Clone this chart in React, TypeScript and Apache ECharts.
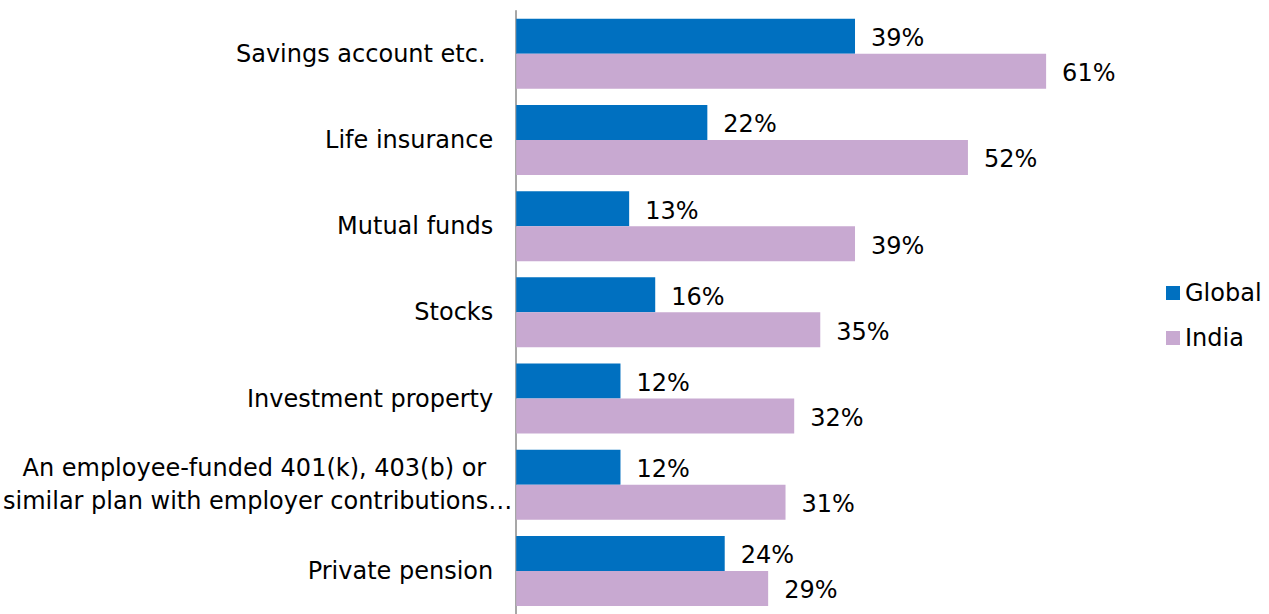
import React, { useEffect, useRef } from "react";
import * as echarts from "echarts";

const categories = [
  "Savings account etc. ",
  "Life insurance",
  "Mutual funds",
  "Stocks",
  "Investment property",
  "An employee-funded 401(k), 403(b) or\nsimilar plan with employer contributions…",
  "Private pension",
];
const globalValues = [39, 22, 13, 16, 12, 12, 24];
const indiaValues = [61, 52, 39, 35, 32, 31, 29];
const seriesNames = ["Global", "India"];

const FONT = "DejaVu Sans, Verdana, sans-serif";
const FS = 24;

export default function App() {
  const ref = useRef<HTMLDivElement>(null);
  useEffect(() => {
    if (!ref.current) return;
    const chart = echarts.init(ref.current, undefined, { renderer: "svg" });
    const labelStyle = {
      show: true,
      position: "right" as const,
      distance: 16,
      offset: [0, 2],
      formatter: "{c}%",
      color: "#000",
      fontFamily: FONT,
      fontSize: FS,
    };
    chart.setOption({
      animation: false,
      backgroundColor: "#fff",
      grid: { left: 516, right: 144.7, top: 10.67, bottom: -3.33, containLabel: false },
      legend: {
        orient: "vertical",
        left: 1161,
        top: 276,
        itemWidth: 14,
        itemHeight: 14,
        itemGap: 21,
        icon: "rect",
        textStyle: { fontFamily: FONT, fontSize: FS, color: "#000" },
        data: seriesNames,
      },
      xAxis: {
        type: "value",
        min: 0,
        max: 70,
        show: false,
        splitLine: { show: false },
      },
      yAxis: {
        type: "category",
        inverse: true,
        data: categories,
        axisTick: { show: false },
        axisLine: { show: true, lineStyle: { color: "#8a8a8a", width: 1.5 } },
        axisLabel: {
          margin: 4,
          fontFamily: FONT,
          fontSize: FS,
          color: "#000",
          formatter: (v: string) =>
            v.indexOf("\n") >= 0
              ? v
                  .split("\n")
                  .map((s, i) => `{${i === 0 ? "l1" : "l2"}|${s}}`)
                  .join("\n")
              : `{n|${v}}`,
          rich: {
            n: { fontFamily: FONT, fontSize: FS, color: "#000", padding: [0, 19, 0, 0] },
            l1: { fontFamily: FONT, fontSize: FS, color: "#000", lineHeight: 33, padding: [0, 26, 0, 0] },
            l2: { fontFamily: FONT, fontSize: FS, color: "#000", lineHeight: 33 },
          },
        },
      },
      series: [
        {
          name: seriesNames[0],
          type: "bar",
          data: globalValues,
          barWidth: 35,
          barGap: "0%",
          itemStyle: { color: "#0070C0" },
          label: labelStyle,
        },
        {
          name: seriesNames[1],
          type: "bar",
          data: indiaValues,
          barWidth: 35,
          barGap: "0%",
          itemStyle: { color: "#C8A9D1" },
          label: labelStyle,
        },
      ],
    });
    return () => chart.dispose();
  }, []);
  return (
    <div
      ref={ref}
      style={{ position: "fixed", left: 0, top: 0, width: 1269, height: 614 }}
    />
  );
}
